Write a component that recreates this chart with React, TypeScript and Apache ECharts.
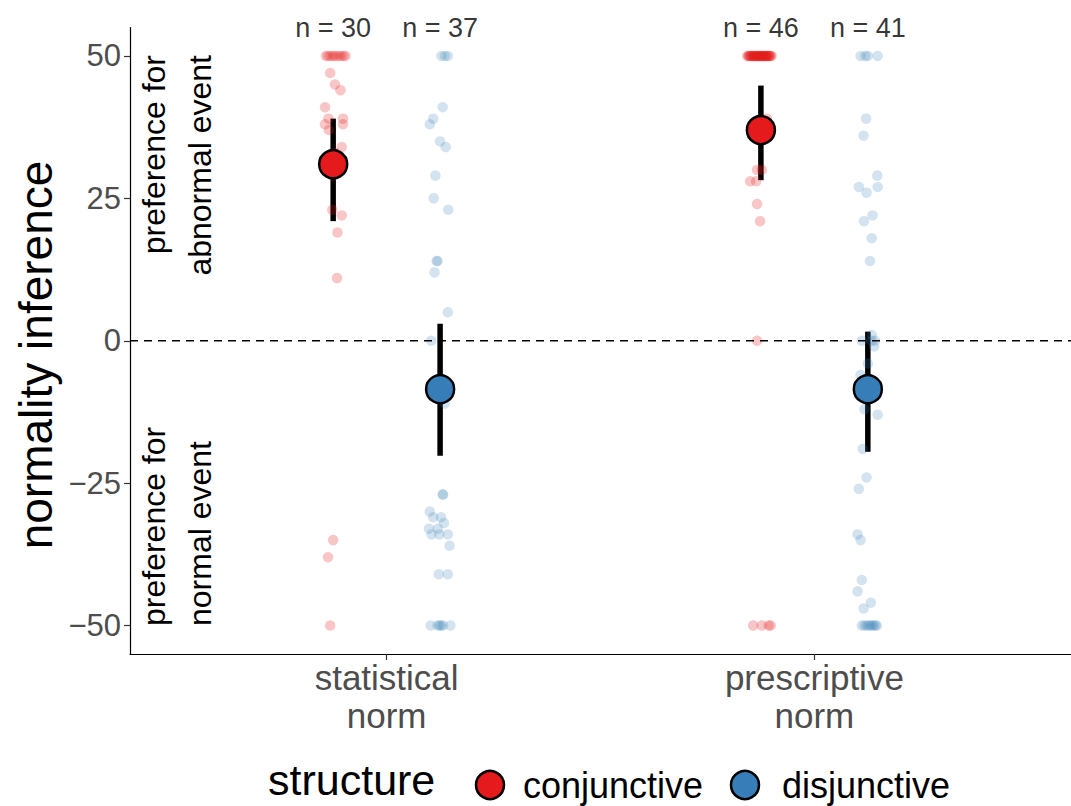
import React, { useEffect, useRef } from "react";
import * as echarts from "echarts";

const categories = ["statistical\nnorm", "prescriptive\nnorm"];
const structures = ["conjunctive", "disjunctive"];
const structureColors = ["#E41A1C", "#377EB8"];
const pointColors = ["rgba(228,26,28,0.25)", "rgba(55,126,184,0.22)"];
const counts = [
  [30, 37],
  [46, 41],
];
const means = [
  [31, -8.5],
  [37, -8.5],
];
const ciLow = [
  [21, -20.2],
  [28.2, -19.5],
];
const ciHigh = [
  [39, 3],
  [44.8, 1.6],
];
const yTicks = [-50, -25, 0, 25, 50];

// [value, horizontal jitter]
const statConj = [
  [50, -0.017], [50, -0.012], [50, -0.006], [50, 0], [50, 0.005], [50, 0.012], [50, 0.018], [50, 0.024], [50, 0.029],
  [47, -0.007], [45, 0.004], [44, 0.017], [41, -0.019], [39, -0.011], [39, 0.023], [38, -0.019], [38, 0.023], [37, -0.01], [34, 0.02],
  [33, 0.004], [32, -0.004], [30, 0.003], [29, -0.002],
  [23, -0.002], [22, 0.02], [19, 0.01], [11, 0.009], [-35, 0], [-38, -0.012], [-50, -0.007],
];
const statDisj = [
  [50, 0.003], [50, 0.011], [50, 0.018],
  [41, 0.006], [39, -0.016], [38, -0.024], [35, 0], [34, 0.013], [29, -0.011], [25, -0.015], [23, 0.019], [14, -0.008], [14, -0.006], [12, -0.013],
  [5, 0.018], [0, -0.021], [-11, 0.011],
  [-27, 0.006], [-27, 0.007], [-30, -0.024], [-31, -0.016], [-31, 0.002], [-32, 0.009], [-33, -0.026], [-33, -0.005], [-34, -0.02], [-34, -0.002], [-34, 0.018], [-36, 0.022], [-41, -0.003], [-41, 0.018],
  [-50, -0.022], [-50, -0.006], [-50, -0.001], [-50, 0.002], [-50, 0.007], [-50, 0.024],
];
const prescConj = [
  [50, -0.032], [50, -0.029], [50, -0.028], [50, -0.025], [50, -0.024], [50, -0.021], [50, -0.02], [50, -0.018], [50, -0.016], [50, -0.015],
  [50, -0.013], [50, -0.011], [50, -0.01], [50, -0.007], [50, -0.006], [50, -0.005], [50, -0.003], [50, -0.001], [50, 0], [50, 0.001],
  [50, 0.003], [50, 0.005], [50, 0.006], [50, 0.008], [50, 0.009], [50, 0.011], [50, 0.013], [50, 0.014], [50, 0.016], [50, 0.017],
  [50, 0.019], [50, 0.021], [50, 0.023], [50, 0.025],
  [39, 0.014], [30, -0.009], [30, 0.002], [28, -0.025], [28, -0.011], [24, -0.009], [21, -0.002], [0, -0.009],
  [-50, -0.018], [-50, 0.002], [-50, 0.018], [-50, 0.023],
];
const prescDisj = [
  [50, -0.017], [50, -0.006], [50, 0], [50, 0.023],
  [39, -0.004], [36, -0.01], [29, 0.022], [27, -0.021], [27, 0.023], [26, -0.003], [22, 0.011], [21, -0.009], [18, 0.009], [14, 0.005],
  [1, 0.009], [0, -0.014], [0, 0.009], [0, 0.017],
  [-1, 0.015], [-4, 0], [-6, -0.017], [-12, -0.008], [-13, 0.023], [-19, -0.012], [-24, -0.003], [-26, -0.021], [-34, -0.024], [-35, -0.017], [-42, -0.014], [-44, -0.024], [-46, 0.007], [-47, -0.01],
  [-50, -0.014], [-50, -0.008], [-50, -0.003], [-50, 0.002], [-50, 0.006], [-50, 0.01], [-50, 0.014], [-50, 0.018], [-50, 0.021],
];
const groups = [
  [statConj, statDisj],
  [prescConj, prescDisj],
];
const dodge = [-0.125, 0.125];

const FONT = "'Liberation Sans', Arial, sans-serif";

export default function App() {
  const ref = useRef<HTMLDivElement>(null);
  useEffect(() => {
    if (!ref.current) return;
    const chart = echarts.init(ref.current, null, { renderer: "svg" });

    const pointSeries = structures.map((s, si) => ({
      type: "scatter",
      name: s,
      symbolSize: 10.5,
      itemStyle: { color: pointColors[si], opacity: 1 },
      silent: true,
      data: categories.flatMap((_, ci) =>
        groups[ci][si].map(([v, j]) => [ci + 1 + dodge[si] + j, v])
      ),
    }));

    const barData: number[][] = [];
    const meanData: any[] = [];
    const nData: any[] = [];
    categories.forEach((_, ci) => {
      structures.forEach((_, si) => {
        const x = ci + 1 + dodge[si];
        barData.push([x, ciLow[ci][si], ciHigh[ci][si]]);
        meanData.push({ value: [x, means[ci][si]], itemStyle: { color: structureColors[si] } });
        nData.push({ value: [x, 55], n: counts[ci][si] });
      });
    });

    chart.setOption({
      animation: false,
      grid: { left: 130, right: -14, top: 27.5, bottom: 152 },
      xAxis: {
        type: "value",
        min: 0.4,
        max: 2.6,
        splitLine: { show: false },
        axisLine: { show: true, onZero: false, lineStyle: { color: "#000", width: 1.2 } },
        axisTick: { show: true, customValues: [1, 2], length: 6, lineStyle: { color: "#333", width: 1.2 } },
        axisLabel: {
          customValues: [1, 2],
          formatter: (v: number) => categories[Math.round(v) - 1],
          color: "#4D4D4D",
          fontSize: 35,
          lineHeight: 38,
          fontFamily: FONT,
          margin: 4,
        },
      },
      yAxis: {
        type: "value",
        min: -55,
        max: 55,
        splitLine: { show: false },
        axisLine: { show: true, onZero: false, lineStyle: { color: "#000", width: 1.2 } },
        axisTick: { show: true, customValues: yTicks, length: 6, lineStyle: { color: "#333", width: 1.2 } },
        axisLabel: {
          customValues: yTicks,
          formatter: (v: number) => (v < 0 ? "\u2212" + Math.abs(v) : String(v)),
          color: "#4D4D4D",
          fontSize: 31,
          fontFamily: FONT,
          margin: 9,
        },
      },
      series: [
        {
          type: "line",
          data: [[0.4, 0], [2.6, 0]],
          symbol: "none",
          silent: true,
          lineStyle: { color: "#000", width: 1.4, type: [8, 6] },
        },
        ...pointSeries,
        {
          type: "custom",
          silent: true,
          data: barData,
          renderItem: (params: any, api: any) => {
            const p1 = api.coord([api.value(0), api.value(1)]);
            const p2 = api.coord([api.value(0), api.value(2)]);
            return {
              type: "line",
              shape: { x1: p1[0], y1: p1[1], x2: p2[0], y2: p2[1] },
              style: { stroke: "#000", lineWidth: 5.5 },
            };
          },
        },
        {
          type: "scatter",
          silent: true,
          symbolSize: 28,
          itemStyle: { borderColor: "#000", borderWidth: 2.5, opacity: 1 },
          data: meanData,
        },
        {
          type: "scatter",
          silent: true,
          clip: false,
          symbolSize: 1,
          itemStyle: { color: "transparent" },
          label: {
            show: true,
            position: "inside",
            formatter: (p: any) => "n = " + p.data.n,
            color: "#000",
            fontSize: 27,
            fontFamily: FONT,
          },
          data: nData,
        },
      ],
      graphic: [
        { type: "text", x: 36, y: 355, rotation: Math.PI / 2, style: { text: "normality inference", font: `46px ${FONT}`, fill: "#000", align: "center", verticalAlign: "middle" } },
        { type: "text", x: 154, y: 55, rotation: Math.PI / 2, style: { text: "preference for", font: `32px ${FONT}`, fill: "#000", align: "right", verticalAlign: "middle" } },
        { type: "text", x: 200, y: 55, rotation: Math.PI / 2, style: { text: "abnormal event", font: `32px ${FONT}`, fill: "#000", align: "right", verticalAlign: "middle" } },
        { type: "text", x: 154, y: 626, rotation: Math.PI / 2, style: { text: "preference for", font: `32px ${FONT}`, fill: "#000", align: "left", verticalAlign: "middle" } },
        { type: "text", x: 200, y: 626, rotation: Math.PI / 2, style: { text: "normal event", font: `32px ${FONT}`, fill: "#000", align: "left", verticalAlign: "middle" } },
        { type: "text", x: 268, y: 801, style: { text: "structure", font: `43px ${FONT}`, fill: "#000", align: "left", verticalAlign: "bottom" } },
        { type: "circle", shape: { cx: 490, cy: 785, r: 14 }, style: { fill: structureColors[0], stroke: "#000", lineWidth: 2.5 } },
        { type: "text", x: 523, y: 785, style: { text: structures[0], font: `36px ${FONT}`, fill: "#000", align: "left", verticalAlign: "middle" } },
        { type: "circle", shape: { cx: 745, cy: 785, r: 14 }, style: { fill: structureColors[1], stroke: "#000", lineWidth: 2.5 } },
        { type: "text", x: 782, y: 785, style: { text: structures[1], font: `36px ${FONT}`, fill: "#000", align: "left", verticalAlign: "middle" } },
      ],
    });
    return () => chart.dispose();
  }, []);
  return (
    <div
      ref={ref}
      style={{ position: "fixed", left: 0, top: 0, width: 1071, height: 806, background: "#fff" }}
    />
  );
}
